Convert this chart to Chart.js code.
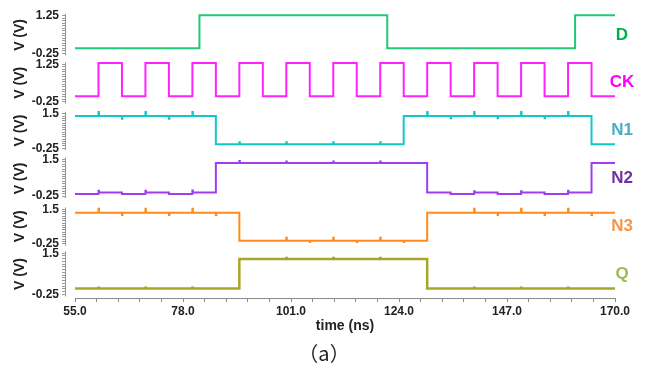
<!DOCTYPE html>
<html>
<head>
<meta charset="utf-8">
<script src="https://cdn.jsdelivr.net/npm/chart.js@4.4.1/dist/chart.umd.min.js"></script>
<style>
  html, body { margin: 0; padding: 0; background: #fff; }
  #wrap { width: 646px; height: 375px; }
</style>
</head>
<body>
<div id="wrap"><canvas id="chart" width="646" height="375"></canvas></div>
<script>
// signals, top to bottom
const signals = ['D', 'CK', 'N1', 'N2', 'N3', 'Q'];

// tick labels
const xTicks = [55, 78, 101, 124, 147, 170];
const yTicks = [[-0.25, 1.25], [-0.25, 1.25], [-0.25, 1.5], [-0.25, 1.5], [-0.25, 1.5], [-0.25, 1.5]];

// level changes: time (ns) and voltage after the change
const dTimes = [55, 81.5, 121.5, 161.5];
const dLevels = [-0.05, 1.28, -0.05, 1.28];

const ckTimes = [55, 60, 65, 70, 75, 80, 85, 90, 95, 100, 105, 110, 115, 120, 125, 130, 135, 140, 145, 150, 155, 160, 165];
const ckLevels = [-0.03, 1.3, -0.03, 1.3, -0.03, 1.3, -0.03, 1.3, -0.03, 1.3, -0.03, 1.3, -0.03, 1.3, -0.03, 1.3, -0.03, 1.3, -0.03, 1.3, -0.03, 1.3, -0.03];

const n1Times = [55, 85, 125, 165];
const n1Levels = [1.4, -0.05, 1.4, -0.05];
const n1GlitchTimes = [60, 65, 70, 75, 80, 90, 100, 110, 120, 130, 135, 140, 145, 150, 155, 160];
const n1GlitchSizes = [0.2, -0.15, 0.2, -0.15, 0.2, 0.1, 0.1, 0.1, 0.1, 0.2, -0.12, 0.2, -0.12, 0.2, -0.12, 0.2];

const n2Times = [55, 60, 65, 70, 75, 80, 85, 130, 135, 140, 145, 150, 155, 160, 165];
const n2Levels = [-0.15, -0.08, -0.15, -0.08, -0.15, -0.08, 1.32, -0.08, -0.15, -0.08, -0.15, -0.08, -0.15, -0.08, 1.32];
const n2GlitchTimes = [60, 70, 80, 90, 100, 110, 120, 140, 150, 160];
const n2GlitchSizes = [0.08, 0.08, 0.1, 0.1, 0.08, 0.08, 0.08, 0.06, 0.06, 0.08];

const n3Times = [55, 90, 130];
const n3Levels = [1.33, -0.1, 1.33];
const n3GlitchTimes = [60, 65, 70, 75, 80, 85, 100, 105, 110, 115, 120, 125, 140, 145, 150, 155, 160, 165];
const n3GlitchSizes = [0.2, -0.12, 0.2, -0.12, 0.2, -0.12, 0.15, -0.06, 0.15, -0.06, 0.15, -0.06, 0.2, -0.12, 0.2, -0.12, 0.2, -0.12];

const qTimes = [55, 90, 130];
const qLevels = [0, 1.25, 0];
const qGlitchTimes = [60, 70, 80, 100, 110, 120, 140, 150, 160];
const qGlitchSizes = [0.04, 0.04, 0.04, 0.05, 0.05, 0.05, 0.04, 0.04, 0.04];

const lineColors = ['#1fcb72', '#ff22ff', '#10c8cc', '#a23cf0', '#ff8a1c', '#a8a62a'];
const nameColors = ['#00b050', '#ff00ff', '#4bacc6', '#7030a0', '#f79646', '#9bbb59'];
const lineWidths = [2, 2, 2, 2, 2, 2.5];

// per-panel axis range (gives the space between stacked panels)
const axisMin = [-0.47, -0.45, -0.57, -0.55, -0.58, -0.40];
const axisMax = [1.45, 1.47, 1.87, 1.73, 1.86, 1.63];

const T_END = 170;
const GLITCH_W = 0.1;

function wave(times, levels, gTimes = [], gSizes = []) {
  const pts = times.map((t, i) => ({ x: t, y: levels[i] }));
  const levelAt = t => {
    let v = levels[0];
    times.forEach((tt, i) => { if (tt <= t) v = levels[i]; });
    return v;
  };
  gTimes.forEach((t, i) => {
    const base = levelAt(t);
    pts.push({ x: t, y: base + gSizes[i] });
    pts.push({ x: t + GLITCH_W, y: base });
  });
  pts.push({ x: T_END, y: levels[levels.length - 1] });
  return pts.sort((a, b) => a.x - b.x);
}

const waves = [
  wave(dTimes, dLevels),
  wave(ckTimes, ckLevels),
  wave(n1Times, n1Levels, n1GlitchTimes, n1GlitchSizes),
  wave(n2Times, n2Levels, n2GlitchTimes, n2GlitchSizes),
  wave(n3Times, n3Levels, n3GlitchTimes, n3GlitchSizes),
  wave(qTimes, qLevels, qGlitchTimes, qGlitchSizes)
];

const tickFont = { family: 'Liberation Sans', size: 12, weight: 'bold' };

const scales = {
  x: {
    type: 'linear',
    min: xTicks[0] - 2.13,
    max: xTicks[xTicks.length - 1],
    border: { display: false },
    grid: { drawOnChartArea: false, tickLength: 4, color: '#8a8a8a' },
    ticks: {
      autoSkip: false, maxRotation: 0, padding: 2, font: tickFont, color: '#222',
      callback: (v, k) => (k % 5 === 0 ? xTicks[k / 5].toFixed(1) : '')
    },
    afterBuildTicks: s => {
      const t = [];
      for (let k = 0; k < xTicks.length - 1; k++) {
        for (let m = 0; m < 5; m++) t.push({ value: xTicks[k] + (xTicks[k + 1] - xTicks[k]) * m / 5 });
      }
      t.push({ value: xTicks[xTicks.length - 1] });
      s.ticks = t;
    },
    afterFit: s => { s.height = 20; }
  }
};

signals.forEach((name, i) => {
  const [lo, hi] = yTicks[i];
  scales['y' + i] = {
    type: 'linear',
    position: 'left',
    stack: 'wave',
    stackWeight: 1,
    weight: signals.length - i,
    min: axisMin[i],
    max: axisMax[i],
    border: { display: false },
    grid: { drawOnChartArea: false, tickLength: 3, color: '#999' },
    ticks: {
      autoSkip: false, padding: 3, font: tickFont, color: '#222',
      callback: (v, k, arr) => (k === 0 ? String(lo) : k === arr.length - 1 ? String(hi) : '')
    },
    afterBuildTicks: s => {
      const t = [];
      for (let k = 0; k <= 15; k++) t.push({ value: lo + (hi - lo) * k / 15 });
      s.ticks = t;
    },
    title: {
      display: true, text: 'V (V)', color: '#222',
      font: { family: 'Liberation Sans', size: 14, weight: 'bold' },
      padding: { top: 12, bottom: 0 }
    },
    afterFit: s => { s.width = 65; }
  };
});

const decor = {
  id: 'decor',
  afterDraw(chart) {
    const { ctx, chartArea, scales } = chart;
    ctx.save();
    ctx.strokeStyle = '#999';
    ctx.lineWidth = 1;
    const ax = Math.round(chartArea.left) + 0.5;
    signals.forEach((name, i) => {
      const s = scales['y' + i];
      const [lo, hi] = yTicks[i];
      ctx.beginPath();
      ctx.moveTo(ax, s.getPixelForValue(hi) - 2);
      ctx.lineTo(ax, s.getPixelForValue(lo) + 2);
      ctx.stroke();
      ctx.fillStyle = nameColors[i];
      ctx.font = 'bold 17px "Liberation Sans"';
      ctx.textAlign = 'center';
      ctx.textBaseline = 'middle';
      ctx.fillText(name, chartArea.right + 7, (s.top + s.bottom) / 2);
    });
    const xs = scales.x;
    const x0 = xs.getPixelForValue(xTicks[0]);
    const x1 = xs.getPixelForValue(xTicks[xTicks.length - 1]);
    ctx.strokeStyle = '#8a8a8a';
    ctx.beginPath();
    ctx.moveTo(x0, Math.round(chartArea.bottom) + 0.5);
    ctx.lineTo(x1, Math.round(chartArea.bottom) + 0.5);
    ctx.stroke();
    ctx.fillStyle = '#222';
    ctx.textAlign = 'center';
    ctx.textBaseline = 'middle';
    ctx.font = 'bold 14px "Liberation Sans"';
    ctx.fillText('time (ns)', (x0 + x1) / 2, 326);
    ctx.font = '20px "Noto Sans CJK SC"';
    ctx.fillText('（a）', 324, 353);
    ctx.restore();
  }
};

new Chart(document.getElementById('chart'), {
  type: 'line',
  data: {
    datasets: signals.map((name, i) => ({
      label: name,
      data: waves[i],
      yAxisID: 'y' + i,
      borderColor: lineColors[i],
      borderWidth: lineWidths[i],
      stepped: true,
      pointRadius: 0,
      fill: false
    }))
  },
  options: {
    responsive: false,
    animation: false,
    layout: { padding: { top: 11, left: 0, right: 31, bottom: 57 } },
    plugins: { legend: { display: false }, tooltip: { enabled: false } },
    scales: scales
  },
  plugins: [decor]
});
</script>
</body>
</html>
